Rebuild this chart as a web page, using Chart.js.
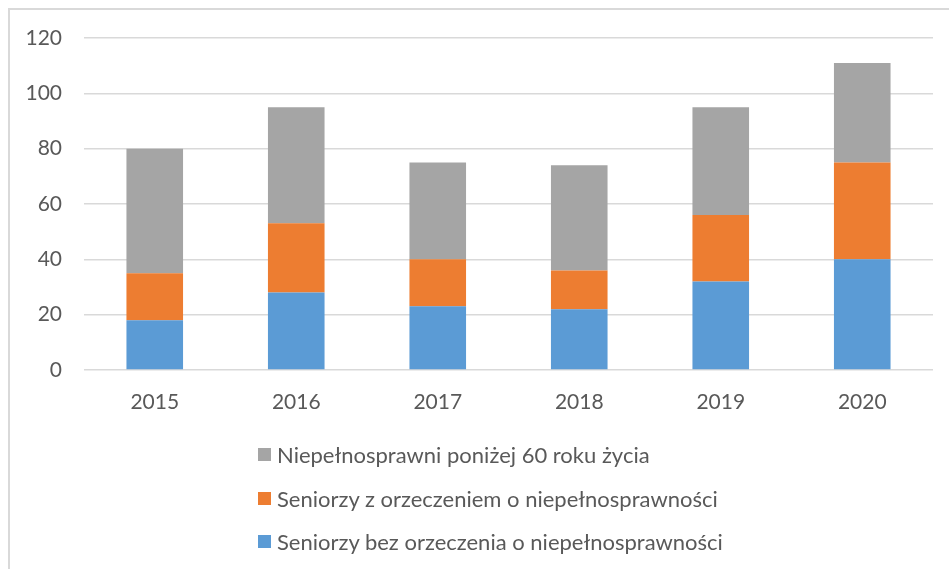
<!DOCTYPE html>
<html>
<head>
<meta charset="utf-8">
<script src="https://cdn.jsdelivr.net/npm/chart.js@4"></script>
<style>
  body { margin: 0; background: #fff; }
  #wrap { position: relative; width: 949px; height: 569px; overflow: hidden; }
  #frame { position: absolute; left: 8px; top: 8px; width: 1000px; height: 600px;
           border-left: 2px solid #d9d9d9; border-top: 2px solid #d9d9d9; }
  #chart { position: absolute; left: 0; top: 0; }
  #legend { position: absolute; left: 258px; top: 433px; font-family: Lato, sans-serif;
            font-size: 22px; color: #595959; }
  #legend .item { height: 43.5px; display: flex; align-items: center; white-space: nowrap; }
  #legend .box { width: 13px; height: 13px; margin-right: 6px; flex: none; }
</style>
</head>
<body>
<div id="wrap">
  <div id="frame"></div>
  <canvas id="chart" width="949" height="569"></canvas>
  <div id="legend"></div>
</div>
<script>
// data
const years = ['2015', '2016', '2017', '2018', '2019', '2020'];
const bezOrzeczenia = [18, 28, 23, 22, 32, 40];
const zOrzeczeniem = [17, 25, 17, 14, 24, 35];
const ponizej60 = [45, 42, 35, 38, 39, 36];

const seriesNames = [
    'Seniorzy bez orzeczenia o niepełnosprawności',
    'Seniorzy z orzeczeniem o niepełnosprawności',
    'Niepełnosprawni poniżej 60 roku życia'
];
const colors = ['#5B9BD5', '#ED7D31', '#A5A5A5'];

Chart.defaults.font.family = 'Lato, sans-serif';
Chart.defaults.font.size = 21;
Chart.defaults.color = '#595959';

const chart = new Chart(document.getElementById('chart'), {
    type: 'bar',
    data: {
        labels: years,
        datasets: [bezOrzeczenia, zOrzeczeniem, ponizej60].map((d, i) => ({
            label: seriesNames[i],
            data: d,
            backgroundColor: colors[i],
            barPercentage: 0.4,
            categoryPercentage: 1
        }))
    },
    options: {
        responsive: false,
        animation: false,
        layout: { padding: { left: 10, right: 16, top: 38, bottom: 155 } },
        plugins: { legend: { display: false }, tooltip: { enabled: false } },
        scales: {
            x: {
                stacked: true,
                grid: { display: false, drawTicks: false },
                border: { display: false },
                ticks: { padding: 20, maxRotation: 0 },
                afterFit(scale) { scale.height = 44; }
            },
            y: {
                stacked: true,
                min: 0,
                max: 120,
                ticks: { stepSize: 20, padding: 22 },
                grid: { color: '#d9d9d9', lineWidth: 1.5, drawTicks: false },
                border: { display: false },
                afterFit(scale) { scale.width = 74; }
            }
        }
    }
});

// legend below, one item per row, reversed order like the original
const legend = document.getElementById('legend');
chart.data.datasets.slice().reverse().forEach(ds => {
    const row = document.createElement('div');
    row.className = 'item';
    row.innerHTML = `<span class="box" style="background:${ds.backgroundColor}"></span><span>${ds.label}</span>`;
    legend.appendChild(row);
});
</script>
</body>
</html>
